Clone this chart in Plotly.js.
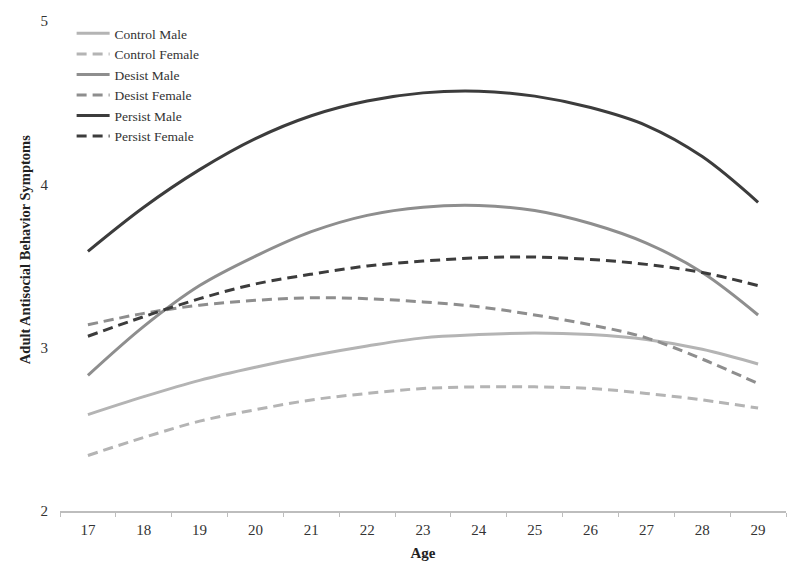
<!DOCTYPE html>
<html>
<head>
<meta charset="utf-8">
<script src="https://cdn.plot.ly/plotly-3.0.1.min.js"></script>
<style>
  html, body { margin: 0; padding: 0; background: #fff; }
  #chart { width: 800px; height: 577px; }
</style>
</head>
<body>
<div id="chart"></div>
<script>
const ages = [17, 18, 19, 20, 21, 22, 23, 24, 25, 26, 27, 28, 29];

const controlMale   = [2.59, 2.70, 2.80, 2.88, 2.95, 3.01, 3.06, 3.08, 3.09, 3.08, 3.05, 2.99, 2.90];
const controlFemale = [2.34, 2.45, 2.55, 2.62, 2.68, 2.72, 2.75, 2.76, 2.76, 2.75, 2.72, 2.68, 2.63];
const desistMale    = [2.83, 3.13, 3.38, 3.56, 3.71, 3.81, 3.86, 3.87, 3.84, 3.76, 3.64, 3.46, 3.20];
const desistFemale  = [3.14, 3.21, 3.26, 3.29, 3.305, 3.30, 3.28, 3.25, 3.20, 3.14, 3.06, 2.93, 2.78];
const persistMale   = [3.59, 3.86, 4.09, 4.28, 4.42, 4.51, 4.56, 4.57, 4.54, 4.47, 4.36, 4.17, 3.89];
const persistFemale = [3.07, 3.19, 3.30, 3.39, 3.45, 3.50, 3.53, 3.55, 3.555, 3.54, 3.51, 3.46, 3.38];

const yTicks = [2, 3, 4, 5];

const LIGHT = "#b4b4b4";
const MID = "#8e8e8e";
const DARK = "#3c3c3c";
const DASH = "10px,6px";

function series(name, values, color, dashed) {
  return {
    x: ages.map(String),
    y: values,
    type: "scatter",
    mode: "lines",
    name: name,
    line: { color: color, width: 3, shape: "spline", dash: dashed ? DASH : "solid" },
  };
}

const traces = [
  series("Control Male", controlMale, LIGHT, false),
  series("Control Female", controlFemale, LIGHT, true),
  series("Desist Male", desistMale, MID, false),
  series("Desist Female", desistFemale, MID, true),
  series("Persist Male", persistMale, DARK, false),
  series("Persist Female", persistFemale, DARK, true),
];

const serif = "Liberation Serif, Times New Roman, serif";

Plotly.newPlot("chart", traces, {
  width: 800,
  height: 577,
  margin: { t: 21, r: 14, b: 66, l: 60 },
  paper_bgcolor: "#fff",
  plot_bgcolor: "#fff",
  font: { family: serif, size: 14, color: "#333" },
  showlegend: true,
  legend: {
    x: 0.016,
    y: 1.006,
    xanchor: "left",
    yanchor: "top",
    bgcolor: "rgba(0,0,0,0)",
    itemwidth: 33,
    tracegroupgap: 0,
    font: { family: serif, size: 13.5, color: "#333" },
  },
  xaxis: {
    type: "category",
    range: [-0.5, ages.length - 0.5],
    tickson: "boundaries",
    ticks: "outside",
    ticklen: 4,
    tickcolor: "#bdbdbd",
    showline: true,
    linecolor: "#bdbdbd",
    linewidth: 2,
    showgrid: false,
    zeroline: false,
    ticklabelstandoff: 4,
    tickfont: { family: serif, size: 15, color: "#333" },
    title: { text: "<b>Age</b>", font: { family: serif, size: 15, color: "#222" }, standoff: 10 },
  },
  yaxis: {
    range: [2, 5],
    tickvals: yTicks,
    ticks: "",
    showline: false,
    showgrid: false,
    zeroline: false,
    ticklabelstandoff: 11,
    tickfont: { family: serif, size: 15, color: "#333" },
    title: {
      text: "<b>" + "&nbsp;".repeat(9) + "Adult Antisocial Behavior Symptoms</b>",
      font: { family: serif, size: 14.5, color: "#222" },
      standoff: 6,
    },
  },
}, { displayModeBar: false, staticPlot: true });
</script>
</body>
</html>
